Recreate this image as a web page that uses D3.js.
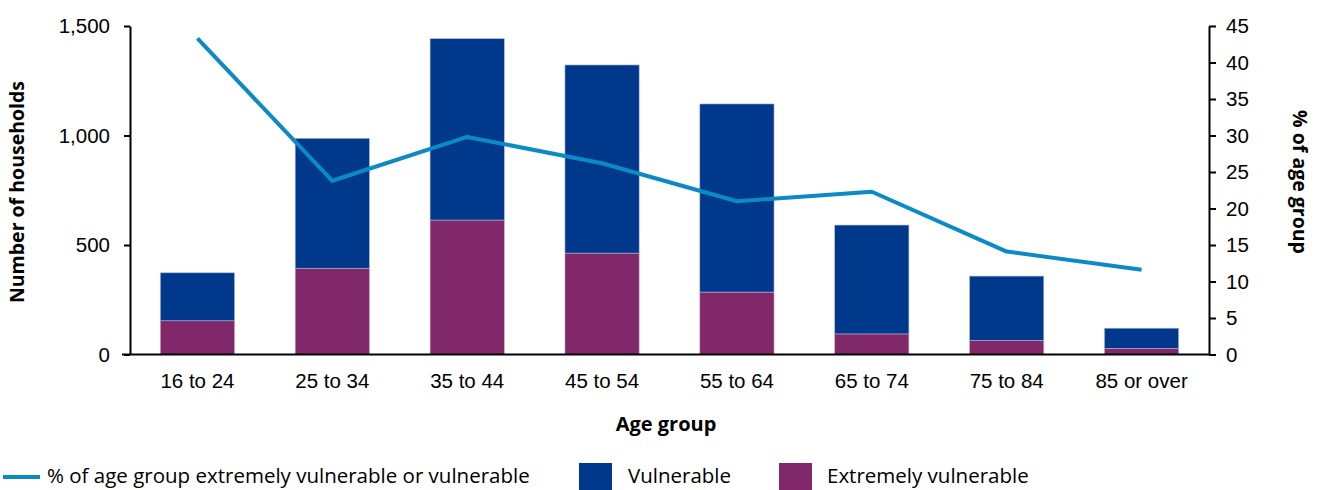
<!DOCTYPE html>
<html>
<head>
<meta charset="utf-8">
<script src="https://cdn.jsdelivr.net/npm/d3@7"></script>
<style>
  body { margin: 0; background: #fff; }
  svg { display: block; font-family: "Open Sans", sans-serif; }
  .tick text { font-size: 20.5px; fill: #000; }
  .domain, .tick line { stroke: #000; stroke-width: 2px; }
</style>
</head>
<body>
<svg id="chart" width="1325" height="490"></svg>
<script>
// Households by age group of the household reference person
const ageGroups = ["16 to 24", "25 to 34", "35 to 44", "45 to 54", "55 to 64", "65 to 74", "75 to 84", "85 or over"];
const extremelyVulnerable = [154, 394, 614, 463, 285, 94, 64, 28];
const vulnerable = [219, 593, 828, 859, 859, 497, 294, 92];
const pctOfAgeGroup = [43.3, 23.8, 29.8, 26.2, 21.0, 22.3, 14.1, 11.6];
const leftTicks = [0, 500, 1000, 1500];
const rightTicks = [0, 5, 10, 15, 20, 25, 30, 35, 40, 45];

const colors = { vulnerable: "#00388C", extreme: "#80286A", line: "#0A8BC6" };

const svg = d3.select("#chart");
const plotLeft = 130, plotRight = 1209, plotTop = 26, plotBottom = 354.5;

const x = d3.scaleBand().domain(ageGroups).range([plotLeft, plotRight]).paddingInner(0.45).paddingOuter(0.225);
const yL = d3.scaleLinear().domain([0, 1500]).range([plotBottom, plotTop]);
const yR = d3.scaleLinear().domain([0, 45]).range([plotBottom, plotTop]);

const rows = ageGroups.map((g, i) => ({ group: g, ev: extremelyVulnerable[i], v: vulnerable[i], pct: pctOfAgeGroup[i] }));

// stacked bars
const bars = svg.append("g");
bars.selectAll("rect.ev").data(rows).join("rect")
  .attr("x", d => x(d.group)).attr("width", x.bandwidth())
  .attr("y", d => yL(d.ev)).attr("height", d => yL(0) - yL(d.ev))
  .attr("fill", colors.extreme).attr("stroke", "#c9a8c0").attr("stroke-width", 0.6);
bars.selectAll("rect.v").data(rows).join("rect")
  .attr("x", d => x(d.group)).attr("width", x.bandwidth())
  .attr("y", d => yL(d.ev + d.v)).attr("height", d => yL(d.ev) - yL(d.ev + d.v))
  .attr("fill", colors.vulnerable).attr("stroke", "#a8b5d2").attr("stroke-width", 0.6);

// percentage line
const line = d3.line().x(d => x(d.group) + x.bandwidth() / 2).y(d => yR(d.pct));
svg.append("path").datum(rows).attr("d", line)
  .attr("fill", "none").attr("stroke", colors.line).attr("stroke-width", 4).attr("stroke-linejoin", "round");

// axes
const axL = svg.append("g").attr("transform", `translate(${plotLeft},0)`)
  .call(d3.axisLeft(yL).tickValues(leftTicks).tickSize(6).tickSizeOuter(0).tickPadding(14).tickFormat(d3.format(",")));
const axR = svg.append("g").attr("transform", `translate(${plotRight},0)`)
  .call(d3.axisRight(yR).tickValues(rightTicks).tickSize(7).tickSizeOuter(0).tickPadding(10));
const axB = svg.append("g").attr("transform", `translate(0,${plotBottom})`)
  .call(d3.axisBottom(x).tickSize(0).tickPadding(19));
axB.select(".domain").attr("d", `M${plotLeft - 8},0H${plotRight}`);
axB.selectAll(".tick text").attr("dy", "0.71em");

// axis titles
svg.append("text").attr("transform", `translate(24,192) rotate(-90)`)
  .attr("text-anchor", "middle").attr("font-size", 19.5).attr("font-weight", 700).text("Number of households");
svg.append("text").attr("transform", `translate(1293,182) rotate(90)`)
  .attr("text-anchor", "middle").attr("font-size", 19.5).attr("font-weight", 700).text("% of age group");
svg.append("text").attr("x", 666).attr("y", 431)
  .attr("text-anchor", "middle").attr("font-size", 20).attr("font-weight", 700).text("Age group");

// legend
const lg = svg.append("g").attr("font-size", 20.5);
lg.append("line").attr("x1", 3).attr("x2", 40).attr("y1", 477).attr("y2", 477)
  .attr("stroke", colors.line).attr("stroke-width", 4);
lg.append("text").attr("x", 47).attr("y", 483).text("% of age group extremely vulnerable or vulnerable");
lg.append("rect").attr("x", 579).attr("y", 463).attr("width", 33).attr("height", 27).attr("fill", colors.vulnerable);
lg.append("text").attr("x", 628).attr("y", 483).text("Vulnerable");
lg.append("rect").attr("x", 779).attr("y", 463).attr("width", 33).attr("height", 27).attr("fill", colors.extreme);
lg.append("text").attr("x", 827).attr("y", 483).text("Extremely vulnerable");
</script>
</body>
</html>
